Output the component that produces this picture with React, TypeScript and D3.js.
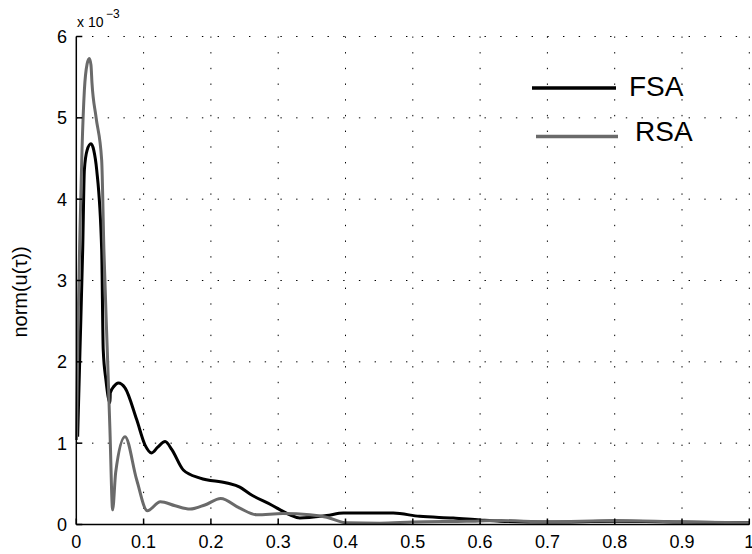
import React from "react";
import * as d3 from "d3";

const xTicks = [0, 0.1, 0.2, 0.3, 0.4, 0.5, 0.6, 0.7, 0.8, 0.9, 1];
const xTickLabels = ["0", "0.1", "0.2", "0.3", "0.4", "0.5", "0.6", "0.7", "0.8", "0.9", "1"];
const yTicks = [0, 1, 2, 3, 4, 5, 6];
const yTickLabels = ["0", "1", "2", "3", "4", "5", "6"];

// values in units of 1e-3
const fsaX = [0.002, 0.0055, 0.0095, 0.012, 0.016, 0.0218, 0.026, 0.0303, 0.0377, 0.040, 0.044, 0.0500, 0.0505, 0.056, 0.0624, 0.0724, 0.0897, 0.102, 0.112, 0.121, 0.132, 0.142, 0.159, 0.184, 0.2235, 0.243, 0.258, 0.29, 0.3175, 0.332, 0.372, 0.397, 0.471, 0.51, 0.56, 0.60, 0.63, 0.7, 0.8, 0.9, 1.0];
const fsaY = [1.08, 2.15, 3.38, 4.36, 4.6, 4.68, 4.6, 4.36, 3.38, 2.15, 1.78, 1.50, 1.62, 1.70, 1.74, 1.68, 1.29, 0.98, 0.88, 0.95, 1.02, 0.92, 0.67, 0.57, 0.51, 0.46, 0.375, 0.24, 0.12, 0.08, 0.11, 0.14, 0.14, 0.10, 0.08, 0.055, 0.04, 0.03, 0.04, 0.03, 0.02];

const rsaX = [0.0003, 0.0025, 0.0055, 0.0085, 0.012, 0.016, 0.0193, 0.0218, 0.0233, 0.0293, 0.0377, 0.041, 0.046, 0.050, 0.054, 0.0585, 0.0724, 0.0897, 0.1055, 0.125, 0.147, 0.169, 0.191, 0.2146, 0.243, 0.268, 0.307, 0.347, 0.372, 0.402, 0.451, 0.5, 0.58, 0.63, 0.7, 0.8, 0.9, 1.0];
const rsaY = [1.04, 2.39, 3.62, 4.61, 5.34, 5.66, 5.73, 5.65, 5.43, 5.01, 4.48, 3.38, 2.15, 1.16, 0.18, 0.64, 1.08, 0.55, 0.17, 0.28, 0.23, 0.19, 0.24, 0.32, 0.20, 0.12, 0.135, 0.12, 0.09, 0.02, 0.015, 0.03, 0.04, 0.05, 0.03, 0.05, 0.03, 0.02];

const seriesNames = ["FSA", "RSA"];

export default function App() {
  const W = 752, H = 554;
  const left = 76.3, right = 749.3, top = 36.5, bottom = 524.5;
  const x = d3.scaleLinear().domain([0, 1]).range([left, right]);
  const y = d3.scaleLinear().domain([0, 6]).range([bottom, top]);
  const line = d3.line<[number, number]>().x(d => x(d[0])).y(d => y(d[1])).curve(d3.curveMonotoneX);
  const fsa = fsaX.map((v, i) => [v, fsaY[i]] as [number, number]);
  const rsa = rsaX.map((v, i) => [v, rsaY[i]] as [number, number]);
  const font = "Liberation Sans, Arial, Helvetica, sans-serif";
  const grid = { stroke: "#000", strokeWidth: 1, strokeDasharray: "1.4,14.3" };
  return (
    <svg width={W} height={H} style={{ position: "absolute", left: 0, top: 0, background: "#fff" }} fontFamily={font}>
      {/* grid */}
      {xTicks.slice(1).map((t, i) => (
        <line key={"gx" + i} x1={x(t)} x2={x(t)} y1={bottom} y2={top} {...grid} />
      ))}
      {yTicks.slice(1).map((t, i) => (
        <line key={"gy" + i} x1={left} x2={right} y1={y(t)} y2={y(t)} {...grid} />
      ))}
      {/* data */}
      <path d={line(fsa) || ""} fill="none" stroke="#000" strokeWidth={3} strokeLinejoin="round" />
      <path d={line(rsa) || ""} fill="none" stroke="#6a6a6a" strokeWidth={3} strokeLinejoin="round" />
      {/* axes */}
      <line x1={left} x2={left} y1={top} y2={bottom} stroke="#000" strokeWidth={1.5} />
      <line x1={left} x2={right} y1={bottom} y2={bottom} stroke="#000" strokeWidth={1.5} />
      {yTicks.map((t, i) => (
        <g key={"yt" + i}>
          <line x1={left} x2={left + 6} y1={y(t)} y2={y(t)} stroke="#000" strokeWidth={1.5} />
          <text x={67} y={y(t)} dy="0.36em" textAnchor="end" fontSize={18}>{yTickLabels[i]}</text>
        </g>
      ))}
      {xTicks.map((t, i) => (
        <g key={"xt" + i}>
          <line x1={x(t)} x2={x(t)} y1={bottom} y2={bottom - 6} stroke="#000" strokeWidth={1.5} />
          <text x={x(t)} y={548} textAnchor="middle" fontSize={18}>{xTickLabels[i]}</text>
        </g>
      ))}
      {/* exponent */}
      <text x={77} y={27} fontSize={14}>x 10</text>
      <text x={106} y={18} fontSize={12}>−3</text>
      {/* y label */}
      <text transform="translate(27,292) rotate(-90)" textAnchor="middle" fontSize={20}>norm(u(τ))</text>
      {/* legend */}
      <line x1={532} x2={616} y1={88} y2={88} stroke="#000" strokeWidth={3.5} />
      <text x={629} y={96} fontSize={28}>{seriesNames[0]}</text>
      <line x1={536} x2={618} y1={136.5} y2={136.5} stroke="#6a6a6a" strokeWidth={3.5} />
      <text x={635} y={141} fontSize={28}>{seriesNames[1]}</text>
    </svg>
  );
}
